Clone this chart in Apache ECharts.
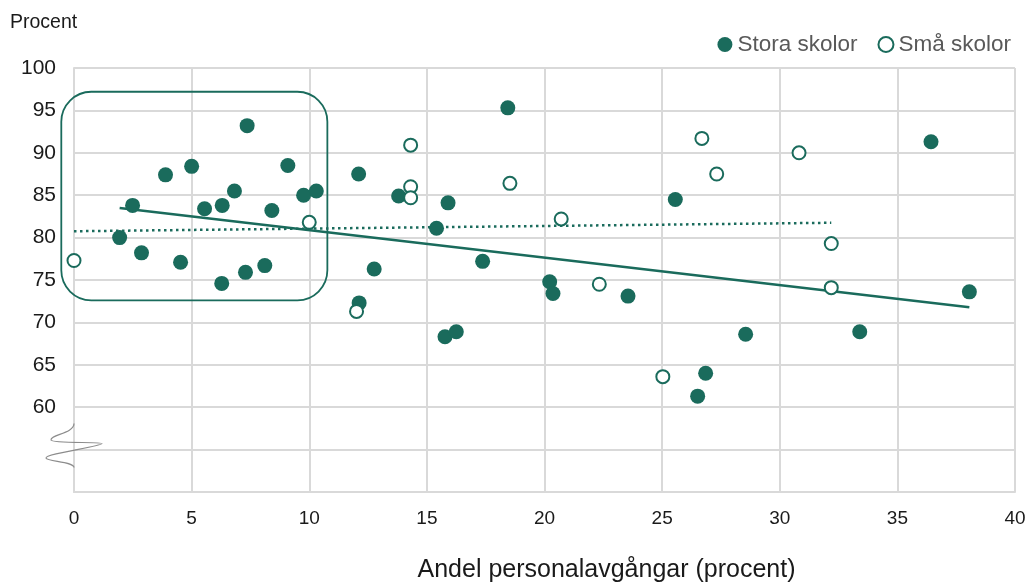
<!DOCTYPE html>
<html>
<head>
<meta charset="utf-8">
<script src="https://cdn.jsdelivr.net/npm/echarts@6/dist/echarts.min.js"></script>
<style>
  html, body { margin: 0; padding: 0; background: #fff; }
  #chart { width: 1030px; height: 582px; }
</style>
</head>
<body>
<div id="chart"></div>
<script>
// Staff turnover vs. share of pupils, large and small schools
const seriesNames = ['Stora skolor', 'Små skolor'];

const storaSkolor = [
  [1.94, 80.0], [2.49, 83.8], [2.87, 78.2], [3.89, 87.4], [4.53, 77.1],
  [5.0, 88.4], [5.55, 83.4], [6.28, 74.6], [6.30, 83.8], [6.82, 85.5],
  [7.29, 75.9], [7.36, 93.2], [8.11, 76.7], [8.41, 83.2], [9.09, 88.5],
  [9.76, 85.0], [10.3, 85.5], [12.1, 87.5], [13.8, 84.9], [15.9, 84.1],
  [15.41, 81.1], [12.76, 76.3], [12.12, 72.3], [15.77, 68.3], [16.25, 68.9],
  [17.37, 77.2], [18.44, 95.3], [20.22, 74.8], [20.36, 73.4], [23.55, 73.1],
  [25.56, 84.5], [36.43, 91.3], [38.06, 73.6], [28.55, 68.6], [33.4, 68.9],
  [26.85, 64.0], [26.51, 61.3]
];

const smaSkolor = [
  [0.0, 77.3], [10.0, 81.8], [12.01, 71.3], [14.31, 90.9], [14.31, 86.0],
  [14.31, 84.7], [18.53, 86.4], [20.71, 82.2], [22.33, 74.5], [25.03, 63.6],
  [26.69, 91.7], [27.32, 87.5], [30.82, 90.0], [32.19, 79.3], [32.19, 74.1]
];

// Linear trend lines (end points)
const trendStora = [[1.94, 83.5], [38.06, 71.8]];
const trendSma = [[0, 80.75], [32.19, 81.75]];

// Highlighted group of schools (data units)
const highlightX = [-0.54, 10.77];
const highlightY = [72.6, 97.2];

const xTicks = { min: 0, max: 40, step: 5 };
const yTicks = { min: 50, max: 100, step: 5, hidden: [50, 55] };

const GREEN = '#1a6b5c';
const GRID = '#d9d9d9';
const FONT = '"Liberation Sans", Arial, sans-serif';

const chart = echarts.init(document.getElementById('chart'), null, { renderer: 'canvas' });

const option = {
  animation: false,
  backgroundColor: '#fff',
  textStyle: { fontFamily: FONT },
  grid: { left: 74, right: 15, top: 68, bottom: 90, containLabel: false },
  legend: {
    data: seriesNames,
    right: 14,
    top: 28,
    itemWidth: 15,
    itemHeight: 15,
    itemGap: 20,
    textStyle: { fontSize: 22.5, color: '#595959', fontFamily: FONT }
  },
  xAxis: {
    type: 'value',
    min: xTicks.min, max: xTicks.max, interval: xTicks.step,
    axisLine: { show: true, lineStyle: { color: GRID, width: 2 } },
    axisTick: { show: false },
    splitLine: { show: true, lineStyle: { color: GRID, width: 2 } },
    axisLabel: { fontSize: 19, color: '#1a1a1a', margin: 17, fontFamily: FONT }
  },
  yAxis: {
    type: 'value',
    min: yTicks.min, max: yTicks.max, interval: yTicks.step,
    axisLine: { show: true, lineStyle: { color: GRID, width: 2 } },
    axisTick: { show: false },
    splitLine: { show: true, lineStyle: { color: GRID, width: 2 } },
    axisLabel: {
      fontSize: 21, color: '#1a1a1a', margin: 18, fontFamily: FONT,
      formatter: v => (yTicks.hidden.includes(v) ? '' : String(v))
    }
  },
  series: [
    {
      name: 'trendStora', type: 'line', data: trendStora,
      showSymbol: false, silent: true, z: 2,
      lineStyle: { color: GREEN, width: 2.5 }
    },
    {
      name: 'trendSma', type: 'line', data: trendSma,
      showSymbol: false, silent: true, z: 2,
      lineStyle: { color: GREEN, width: 2.5, type: [2.5, 3.5] }
    },
    {
      name: seriesNames[0], type: 'scatter', data: storaSkolor,
      symbol: 'circle', symbolSize: 15, z: 3,
      itemStyle: { color: GREEN, opacity: 1 }
    },
    {
      name: seriesNames[1], type: 'scatter', data: smaSkolor,
      symbol: 'circle', symbolSize: 13, z: 4,
      itemStyle: { color: '#fff', borderColor: GREEN, borderWidth: 2, opacity: 1 }
    }
  ]
};

chart.setOption(option);

// Axis-break squiggle, as cubic segments relative to the break point
const squiggle = [
  [[0, -26], [0, -16], [-24, -15], [-23, -9.5]],
  [[-23, -9.5], [-22, -6], [28, -8], [28, -6]],
  [[28, -6], [28, -3], [-29, 4], [-28, 8.5]],
  [[-28, 8.5], [-27, 12], [0, 12], [0, 18]]
];

function drawAnnotations() {
  const tl = chart.convertToPixel({ gridIndex: 0 }, [highlightX[0], highlightY[1]]);
  const br = chart.convertToPixel({ gridIndex: 0 }, [highlightX[1], highlightY[0]]);
  const brk = chart.convertToPixel({ gridIndex: 0 }, [0, 55]);
  const xMid = chart.convertToPixel({ gridIndex: 0 }, [20, 50]);

  const curves = squiggle.map(s => ({
    type: 'bezierCurve', z: 5, silent: true,
    x: brk[0], y: brk[1],
    shape: {
      x1: s[0][0], y1: s[0][1],
      cpx1: s[1][0], cpy1: s[1][1],
      cpx2: s[2][0], cpy2: s[2][1],
      x2: s[3][0], y2: s[3][1]
    },
    style: { fill: null, stroke: '#8c8c8c', lineWidth: 1.2 }
  }));

  chart.setOption({
    graphic: [
      {
        type: 'rect', z: 5, silent: true,
        shape: { x: tl[0], y: tl[1], width: br[0] - tl[0], height: br[1] - tl[1], r: 30 },
        style: { fill: 'none', stroke: GREEN, lineWidth: 1.8 }
      },
      ...curves,
      {
        type: 'text', silent: true,
        x: 10, y: 13,
        style: { text: 'Procent', fontSize: 19.5, fill: '#1a1a1a', fontFamily: FONT }
      },
      {
        type: 'text', silent: true,
        x: xMid[0] + 62, y: 570,
        style: {
          text: 'Andel personalavgångar (procent)', fontSize: 25, fill: '#1a1a1a',
          fontFamily: FONT, align: 'center', verticalAlign: 'middle'
        }
      }
    ]
  });
}

drawAnnotations();
</script>
</body>
</html>
